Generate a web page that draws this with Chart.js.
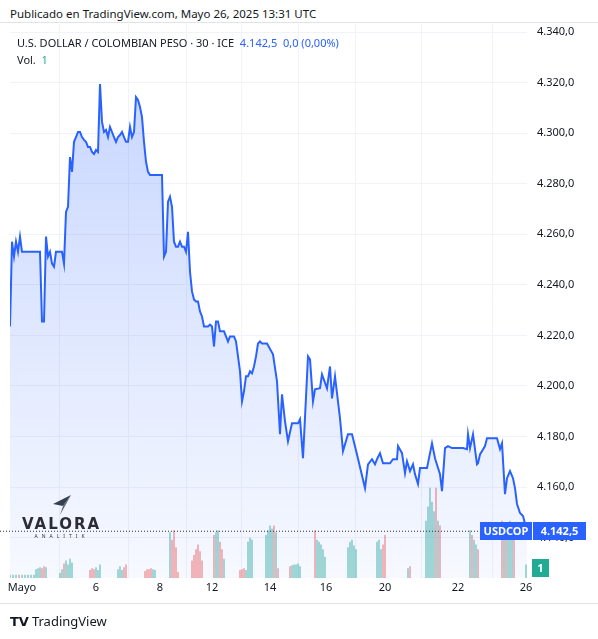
<!DOCTYPE html>
<html>
<head>
<meta charset="utf-8">
<script src="https://cdn.jsdelivr.net/npm/chart.js@4"></script>
<style>
  body { margin: 0; width: 598px; height: 639px; background: #fff; font-family: "Noto Sans", sans-serif; position: relative; overflow: hidden; }
  #pub { position: absolute; left: 10px; top: 6px; font-size: 11.5px; color: #131722; }
  #wrap { position: absolute; left: 0; top: 22px; width: 598px; height: 580px; overflow: hidden; border-top: 1px solid #e0e3eb; border-bottom: 1px solid #e0e3eb; }
  #chart { display: block; margin-top: -15px; }
  #legend { position: absolute; left: 17px; top: 34px; font-size: 11px; color: #131722; line-height: 17px; }
  .blue { color: #2962ff; }
  .teal { color: #22ab94; }
  #footer { position: absolute; left: 10px; top: 612px; font-size: 13px; color: #131722; }
  #footer b { font-family: "DejaVu Sans", sans-serif; font-weight: 900; margin-right: 3px; }
  .box { position: absolute; color: #fff; font-size: 11px; font-weight: bold; text-align: center; line-height: 18px; }
  #logo { position: absolute; left: 22px; top: 494px; text-align: center; color: #2c2c36; }
</style>
</head>
<body>
<div id="pub">Publicado en TradingView.com, Mayo 26, 2025 13:31 UTC</div>
<div id="wrap"><canvas id="chart" width="598" height="595"></canvas></div>
<div id="legend">U.S. DOLLAR / COLOMBIAN PESO · 30 · ICE &nbsp;<span class="blue">4.142,5 &nbsp;0,0 (0,00%)</span><br>Vol. &nbsp;<span class="teal">1</span></div>
<div id="logo">
  <svg width="22" height="22" viewBox="0 0 22 22" style="display:block;margin:0 auto"><path d="M20 1 L2 10 L12 12 Z" fill="#34404f"/><path d="M20 1 L12 12 L9 21 Z" fill="#56647a"/></svg>
  <div style="font-size:15px;line-height:17px;font-weight:bold;letter-spacing:2px;font-family:'DejaVu Sans',sans-serif">VALORA</div>
  <div style="font-size:5px;line-height:7px;letter-spacing:4px">ANALITIK</div>
</div>
<div class="box" style="left:480px;top:522px;width:52px;background:#2962ff">USDCOP</div>
<div class="box" style="left:533px;top:522px;width:53px;background:#2962ff">4.142,5</div>
<div class="box" style="left:532px;top:559px;width:17px;background:#22ab94">1</div>
<div id="footer"><b>TV</b>TradingView</div>
<script>
// price line, 30-min bars (bar index from start of May)
const barIdx = [0,2,4,6,8,10,12,30,32,34,36,38,40,42,44,46,52,54,56,58,60,62,64,66,68,70,72,74,76,78,80,82,84,86,88,90,92,94,96,98,100,102,104,106,108,110,112,114,116,118,120,122,124,126,128,130,132,134,136,138,140,152,154,156,158,160,162,164,166,168,170,172,174,176,178,180,182,184,186,188,190,192,194,196,198,200,202,204,206,208,210,212,214,216,218,220,222,224,226,228,230,232,234,236,238,240,242,244,246,248,250,252,257,263,267,270,272,275,278,282,288,290,293,298,300,303,305,310,312,317,320,322,325,330,333,338,342,347,355,358,362,365,367,370,373,380,383,387,388,392,395,397,400,403,405,408,410,417,422,425,430,432,435,438,442,453,457,458,460,463,467,468,470,475,477,487,490,492,495,497,500,503,505,507,510,513,517];
const prices = [4223.5,4257.1,4251.2,4257.1,4253.1,4259.1,4253.1,4253.1,4225.5,4225.5,4259.1,4251.2,4253.1,4248.4,4247.2,4253.1,4253.1,4248.4,4268.9,4270.9,4290.6,4284.7,4296.6,4298.5,4300.5,4300.5,4298.5,4297.4,4296.6,4294.6,4294.6,4292.6,4291.8,4293.4,4292.6,4319.5,4304.5,4300.5,4301.3,4298.5,4302.5,4300.5,4298.5,4296.6,4298.5,4299.3,4300.5,4298.5,4296.6,4296.6,4302.5,4298.5,4300.5,4314.3,4313.2,4310.4,4306.4,4296.6,4288.7,4284.7,4283.5,4283.5,4251.2,4253.1,4272.9,4274.9,4270.9,4257.1,4255.1,4255.1,4257.1,4255.1,4255.1,4253.1,4261,4245.2,4237.4,4234.2,4233.4,4233.4,4229.5,4227.5,4223.5,4223.5,4223.5,4224.3,4223.5,4215.6,4225.5,4225.5,4221.6,4221.6,4221.6,4219.6,4217.6,4219.6,4219.6,4219.6,4217.6,4211.7,4205.8,4193.9,4197.9,4203.8,4203.8,4205.8,4205,4207.7,4211.7,4216.8,4217.6,4216.8,4216.8,4212.5,4201.8,4180.9,4196.7,4186,4178.1,4185.2,4185.2,4186.8,4171.4,4211.7,4210.5,4193.9,4198.7,4199.1,4204.6,4199.1,4207.7,4195.1,4203.8,4187.2,4174.2,4180.9,4180.9,4172.9,4159.6,4169,4171,4169,4171,4173.4,4169.4,4169.4,4171,4171,4176.2,4173.4,4165.5,4170.2,4166.3,4169,4165.1,4161.2,4167.5,4167.5,4177.3,4171.4,4165.1,4158.4,4175.4,4176.2,4175.4,4175.4,4175,4180.9,4175.4,4180.9,4169,4169.4,4172.9,4176.2,4179.3,4179.3,4175,4177.3,4157.2,4163.5,4166.3,4163.5,4159.6,4153.3,4149.7,4148.5,4142.5];

// volume bars
const volIdx = [0,3,6,9,12,15,18,21,24,26,28,30,32,34,36,50,52,54,56,58,60,62,80,82,84,86,88,90,108,110,112,114,116,135,137,139,141,143,145,160,162,164,166,168,182,184,186,188,190,192,204,206,208,210,212,214,230,232,234,236,238,240,242,256,258,260,262,264,266,268,280,282,284,286,288,290,305,307,309,311,313,315,338,340,342,344,346,367,369,371,373,375,398,400,416,418,420,422,424,426,428,430,460,462,464,466,468,492,494,496,498,500,502,504,516];
const volValues = [3,3,3,3,3,3,3,3,3,9,10,11,10,12,11,5,9,15,18,14,20,16,8,10,9,11,8,14,9,12,8,11,14,7,9,9,10,9,8,48,40,50,32,6,18,24,30,35,28,18,45,48,50,38,30,20,8,9,10,8,38,42,40,45,50,55,52,55,48,10,12,13,14,14,15,12,50,40,38,35,30,22,32,38,40,34,30,38,40,30,35,45,10,12,60,75,95,80,70,95,60,55,50,45,40,35,30,60,55,40,55,60,50,45,14];

const tickIdx = [12,86,150,202,260,316,375,448,516];
const tickLabels = ['Mayo','6','8','12','14','16','20','22','26'];
const priceTicks = [4140,4160,4180,4200,4220,4240,4260,4280,4300,4320,4340];
const lastPrice = 4142.5;

function priceAt(i) {
  let p = prices[0];
  for (let k = 0; k < barIdx.length; k++) { if (barIdx[k] <= i) p = prices[k]; }
  return p;
}
const volColors = volIdx.map((i) => (priceAt(i) >= priceAt(i - 3) ? 'rgba(38,166,154,0.45)' : 'rgba(239,83,80,0.45)'));
const fmt = (v) => v.toFixed(1).replace('.', ',').replace(/^(\d)(\d{3})/, '$1.$2');

const ctx = document.getElementById('chart');
new Chart(ctx, {
  data: {
    datasets: [
      {
        type: 'line',
        data: barIdx.map((x, k) => ({ x, y: prices[k] })),
        borderColor: '#2962ff',
        borderWidth: 2,
        pointRadius: 0,
        tension: 0,
        fill: 'start',
        backgroundColor: (c) => {
          const a = c.chart.chartArea;
          if (!a) return 'rgba(41,98,255,0.1)';
          const g = c.chart.ctx.createLinearGradient(0, a.top, 0, a.bottom);
          g.addColorStop(0, 'rgba(41,98,255,0.28)');
          g.addColorStop(1, 'rgba(41,98,255,0.04)');
          return g;
        },
        yAxisID: 'y',
        order: 1
      },
      {
        type: 'bar',
        data: volIdx.map((x, k) => ({ x, y: volValues[k] })),
        backgroundColor: volColors,
        barThickness: 1.2,
        yAxisID: 'vol',
        order: 2
      }
    ]
  },
  options: {
    responsive: false,
    animation: false,
    layout: { padding: { left: 10, top: 0, bottom: 0, right: 0 } },
    plugins: { legend: { display: false }, tooltip: { enabled: false } },
    scales: {
      x: {
        type: 'linear', min: 0, max: 517, offset: false,
        afterBuildTicks: (ax) => { ax.ticks = tickIdx.map((v) => ({ value: v })); },
        ticks: { autoSkip: false, maxRotation: 0, color: '#131722', font: { size: 11, family: 'Noto Sans' },
          callback: (v) => tickLabels[tickIdx.indexOf(v)] },
        grid: { color: '#f0f3fa', drawTicks: false },
        border: { display: false },
        afterFit: (ax) => { ax.height = 25; }
      },
      y: {
        position: 'right', min: 4124, max: 4343,
        afterBuildTicks: (ax) => { ax.ticks = priceTicks.map((v) => ({ value: v })); },
        ticks: { color: '#131722', font: { size: 11, family: 'Noto Sans' }, padding: 10, callback: (v) => fmt(v) },
        grid: { color: '#f0f3fa', drawTicks: false },
        border: { display: false },
        afterFit: (ax) => { ax.width = 71; }
      },
      vol: { display: false, min: 0, max: 584 }
    }
  },
  plugins: [{
    id: 'lastLine',
    afterDatasetsDraw(chart) {
      const c = chart.ctx, a = chart.chartArea;
      const y = chart.scales.y.getPixelForValue(lastPrice);
      c.save();
      c.strokeStyle = '#2a2e39';
      c.setLineDash([1, 2]);
      c.lineWidth = 1;
      c.beginPath(); c.moveTo(a.left - 10, y); c.lineTo(a.right, y); c.stroke();
      c.restore();
    }
  }]
});
</script>
</body>
</html>
